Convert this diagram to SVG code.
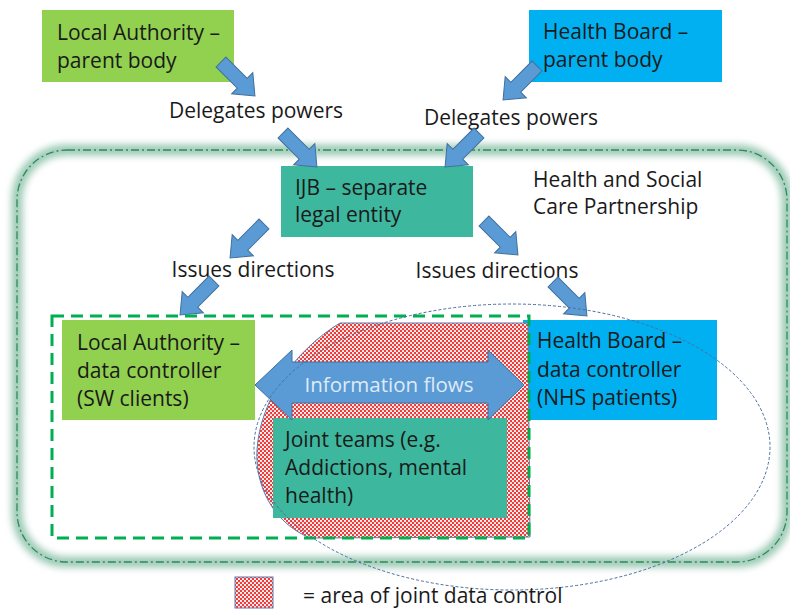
<svg xmlns="http://www.w3.org/2000/svg" width="790" height="610" viewBox="0 0 790 610">
<style>
.t{font-family:"Open Sans","Liberation Sans",sans-serif;font-size:21px;fill:#1a1a1a}
.lbl{font-family:"Open Sans","Liberation Sans",sans-serif;font-size:21px;fill:#1a1a1a}
.green{fill:#92d050}
.blue{fill:#00b0f0}
.teal{fill:#3db79e}
.blk{fill:#5b9bd5;stroke:#41719c;stroke-width:1}
</style>
<defs>
<filter id="blur" x="-5%" y="-5%" width="110%" height="110%"><feGaussianBlur stdDeviation="3.5"/></filter>
<pattern id="dots" width="4" height="4" patternUnits="userSpaceOnUse">
<rect width="4" height="4" fill="#f03a3a"/>
<circle cx="1" cy="1" r="1.1" fill="#ffffff"/>
<circle cx="3" cy="3" r="1.1" fill="#ffffff"/>
</pattern>
<path id="arr" d="M0,-7 H30 V-15 L48,0 L30,15 V7 H0 Z"/>
</defs>
<rect width="790" height="610" fill="#ffffff"/>

<g id="partnership">
<rect x="17" y="150" width="770" height="412" rx="50" fill="none" stroke="#9ccab6" stroke-width="11" filter="url(#blur)"/>
<rect x="17" y="150" width="770" height="412" rx="50" fill="none" stroke="#2e8b57" stroke-width="1.3" stroke-dasharray="8 3 2 3"/>
<text class="t" x="533" y="187">Health and Social</text>
<text class="t" x="533" y="214">Care Partnership</text>
</g>

<g id="la-parent">
<rect class="green" x="42" y="10" width="192" height="72"/>
<text class="t" x="57" y="40">Local Authority –</text>
<text class="t" x="57" y="68">parent body</text>
</g>

<g id="hb-parent">
<rect class="blue" x="529" y="10" width="193" height="72"/>
<text class="t" x="543" y="39">Health Board –</text>
<text class="t" x="543" y="67">parent body</text>
</g>

<g id="ijb">
<rect class="teal" x="281" y="166" width="192" height="71"/>
<text class="t" x="295" y="195">IJB – separate</text>
<text class="t" x="295" y="222">legal entity</text>
</g>

<g id="labels">
<text class="lbl" x="256" y="118" text-anchor="middle">Delegates powers</text>
<text class="lbl" x="511" y="125" text-anchor="middle">Delegates powers</text>
<text class="lbl" x="253" y="277" text-anchor="middle">Issues directions</text>
<text class="lbl" x="497" y="278" text-anchor="middle">Issues directions</text>
</g>

<g id="la-dc">
<rect class="green" x="62" y="320" width="193" height="100"/>
<text class="t" x="77" y="350">Local Authority –</text>
<text class="t" x="77" y="378">data controller</text>
<text class="t" x="77" y="406">(SW clients)</text>
</g>

<g id="hb-dc">
<rect class="blue" x="523" y="320" width="194" height="100"/>
<text class="t" x="537" y="348">Health Board –</text>
<text class="t" x="537" y="377">data controller</text>
<text class="t" x="537" y="405">(NHS patients)</text>
</g>

<g id="joint-area">
<path d="M340,323 L528,323 L530,537 L310,538 C272,522 255,485 257,450 C260,400 295,350 340,323 Z" fill="url(#dots)" stroke="#5a7fb0" stroke-width="1"/>
</g>

<g id="joint-teams">
<rect class="teal" x="273" y="418" width="234" height="100"/>
<text class="t" x="285" y="447">Joint teams (e.g.</text>
<text class="t" x="285" y="475">Addictions, mental</text>
<text class="t" x="285" y="503">health)</text>
</g>

<g id="connectors">
<use href="#arr" class="blk" transform="translate(221,62) rotate(45)"/>
<use href="#arr" class="blk" transform="translate(283,133) rotate(45)"/>
<use href="#arr" class="blk" transform="translate(537,66) rotate(135)"/>
<use href="#arr" class="blk" transform="translate(479,133) rotate(135)"/>
<use href="#arr" class="blk" transform="translate(264,224) rotate(135)"/>
<use href="#arr" class="blk" transform="translate(214,281) rotate(135)"/>
<use href="#arr" class="blk" transform="translate(484,221) rotate(45)"/>
<use href="#arr" class="blk" transform="translate(553,282) rotate(45)"/>
<g id="info-flows">
<path class="blk" d="M255,385 L292,350 L292,362 L488,362 L488,350 L524,385 L488,420 L488,403 L292,403 L292,420 Z"/>
<text x="389" y="392" text-anchor="middle" style="font-family:'Open Sans','Liberation Sans',sans-serif;font-size:20.5px;fill:#dfeaf6">Information flows</text>
</g>
</g>

<g id="la-boundary">
<rect x="52" y="316" width="477" height="222" fill="none" stroke="#00b050" stroke-width="3" stroke-dasharray="12 7"/>
</g>

<g id="hb-boundary">
<ellipse cx="512" cy="447" rx="258" ry="143" fill="none" stroke="#4a6fa0" stroke-width="1" stroke-dasharray="3 2"/>
</g>

<g id="legend">
<rect x="235" y="577" width="38" height="31" fill="url(#dots)" stroke="#5a7fb0" stroke-width="1"/>
<text class="t" x="303" y="603">= area of joint data control</text>
</g>
</svg>
